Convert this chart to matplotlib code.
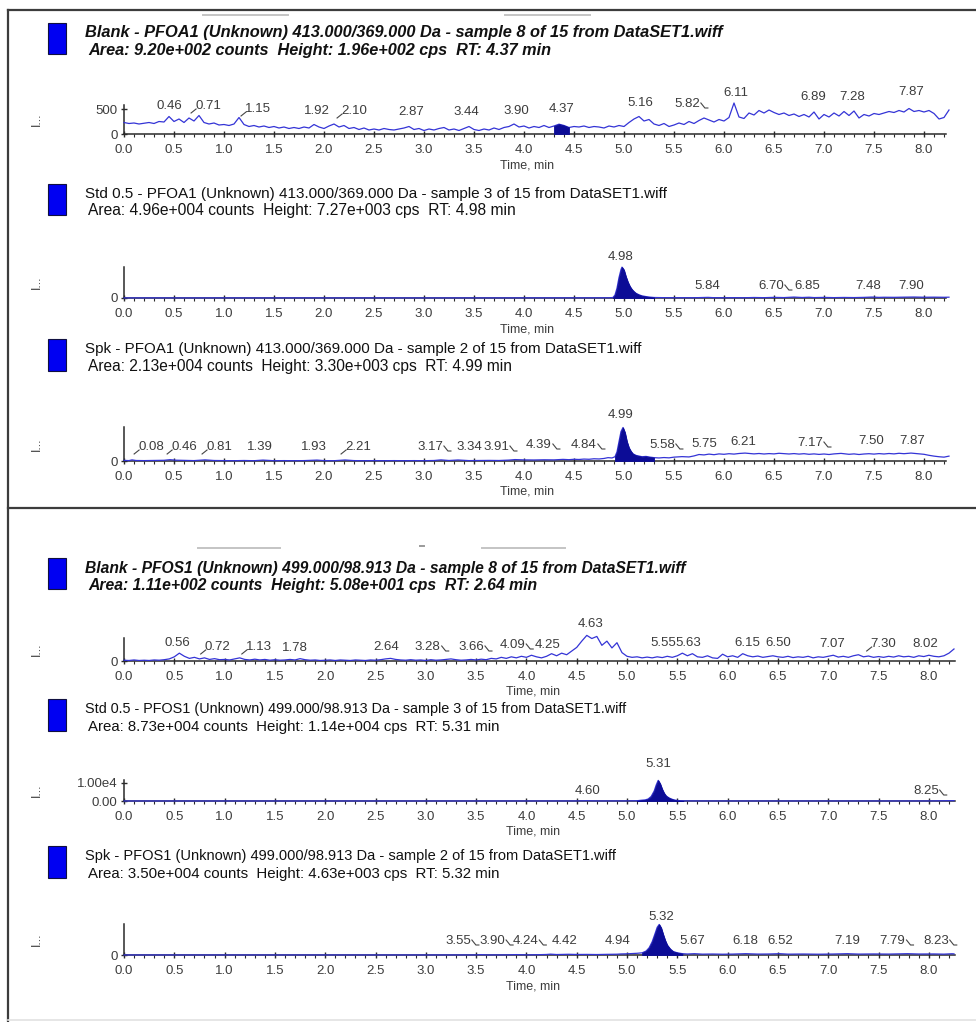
import numpy as np
import matplotlib
matplotlib.use("Agg")
import matplotlib.pyplot as plt
from matplotlib.lines import Line2D
from matplotlib.patches import Rectangle
from matplotlib.transforms import IdentityTransform
from matplotlib.ticker import MultipleLocator, FormatStrFormatter

plt.rcParams['font.family'] = ['Liberation Sans', 'DejaVu Sans']

W, H = 976, 1022
DT = 0.05  # sampling step of the two blank traces, min

# ---------------- data ----------------
# Blank PFOA1, cps every 0.05 min (rows = 0.5 min)
blank_pfoa = [
    230, 210, 220, 200, 215, 230, 210, 250, 240, 350,
    250, 300, 230, 320, 260, 370, 230, 200, 220, 180,
    190, 170, 200, 330, 190, 150, 170, 140, 160, 130,
    150, 120, 140, 110, 130, 110, 140, 120, 190, 140,
    110, 160, 200, 140, 170, 110, 130, 90, 120, 80,
    100, 80, 110, 90, 80, 100, 120, 150, 90, 110,
    70, 100, 80, 110, 130, 80, 100, 70, 110, 150,
    90, 70, 100, 80, 120, 90, 130, 150, 200, 140,
    160, 120, 150, 130, 170, 130, 160, 196, 170, 130,
    150, 140, 160, 130, 150, 140, 120, 160, 140, 170,
    150, 230, 300, 350, 260, 290, 200, 170, 210, 150,
    180, 220, 190, 250, 210, 270, 320, 280, 240, 290,
    260, 330, 620, 340, 310, 420, 380, 470, 420, 480,
    430, 390, 420, 370, 400, 350, 390, 340, 440, 300,
    390, 340, 420, 360, 450, 370, 460, 320, 390, 360,
    410, 390, 420, 450, 430, 470, 440, 510, 450, 470,
    440, 470, 410, 300, 330, 480,
]

# Std 0.5 PFOA1 (time, cps)
std_pfoa = [
    (0.0, 20), (0.3, 30), (0.6, 20), (1.0, 30), (1.4, 20), (1.8, 30), (2.2, 20),
    (2.6, 30), (3.0, 20), (3.4, 30), (3.8, 30), (4.2, 40), (4.6, 40), (4.85, 50),
    (4.89, 120), (4.91, 700), (4.93, 2300), (4.95, 4800), (4.97, 6700), (4.98, 7270),
    (5.00, 6600), (5.02, 5000), (5.04, 3700), (5.06, 2700), (5.08, 2000), (5.10, 1500),
    (5.12, 1100), (5.15, 750), (5.18, 500), (5.22, 330), (5.26, 200), (5.30, 120),
    (5.4, 80), (5.5, 60), (5.6, 70), (5.7, 60), (5.84, 150), (5.9, 70), (6.0, 60),
    (6.1, 80), (6.2, 60), (6.3, 120), (6.4, 80), (6.5, 150), (6.6, 100), (6.70, 220),
    (6.78, 120), (6.85, 180), (6.9, 100), (7.0, 140), (7.1, 90), (7.2, 130), (7.3, 100),
    (7.4, 150), (7.48, 220), (7.55, 150), (7.6, 180), (7.7, 160), (7.8, 200), (7.9, 230),
    (8.0, 180), (8.1, 200), (8.2, 170), (8.25, 190),
]

# Spk PFOA1 (time, cps)
spk_pfoa = [
    (0.00, 60), (0.05, 40), (0.08, 110), (0.12, 50), (0.2, 40), (0.3, 60), (0.4, 70),
    (0.46, 130), (0.52, 80), (0.6, 60), (0.7, 40), (0.81, 110), (0.9, 50), (1.0, 40),
    (1.1, 30), (1.2, 50), (1.3, 30), (1.39, 90), (1.5, 30), (1.6, 40), (1.7, 30),
    (1.8, 40), (1.93, 90), (2.0, 40), (2.1, 30), (2.21, 100), (2.3, 40), (2.4, 30),
    (2.5, 40), (2.6, 30), (2.7, 40), (2.8, 30), (2.9, 40), (3.0, 30), (3.1, 50),
    (3.17, 110), (3.25, 50), (3.34, 100), (3.45, 40), (3.55, 50), (3.65, 60), (3.75, 50),
    (3.85, 90), (3.91, 140), (4.0, 110), (4.1, 100), (4.2, 120), (4.3, 110), (4.39, 160),
    (4.45, 130), (4.5, 170), (4.55, 150), (4.6, 190), (4.65, 170), (4.7, 220), (4.75, 200),
    (4.8, 250), (4.84, 330), (4.88, 300), (4.91, 420), (4.93, 900), (4.95, 1900),
    (4.97, 2900), (4.99, 3300), (5.01, 2800), (5.03, 1900), (5.05, 1300), (5.07, 950),
    (5.09, 700), (5.12, 550), (5.15, 480), (5.18, 420), (5.22, 450), (5.26, 380),
    (5.3, 330), (5.35, 300), (5.4, 340), (5.45, 310), (5.5, 380), (5.58, 430), (5.65, 400),
    (5.7, 500), (5.75, 640), (5.8, 600), (5.85, 680), (5.9, 620), (5.95, 700), (6.0, 660),
    (6.05, 720), (6.1, 680), (6.15, 740), (6.21, 780), (6.3, 700), (6.35, 740), (6.4, 690),
    (6.45, 730), (6.5, 700), (6.55, 760), (6.6, 720), (6.65, 690), (6.7, 730), (6.75, 680),
    (6.8, 720), (6.85, 660), (6.9, 700), (6.95, 650), (7.0, 690), (7.05, 640), (7.1, 700),
    (7.17, 750), (7.25, 660), (7.3, 700), (7.35, 640), (7.4, 690), (7.45, 720), (7.5, 680),
    (7.55, 730), (7.6, 690), (7.65, 740), (7.7, 700), (7.75, 760), (7.8, 720), (7.87, 780),
    (7.95, 700), (8.0, 660), (8.05, 560), (8.1, 480), (8.15, 420), (8.2, 380), (8.25, 480),
]

# Blank PFOS1, cps every 0.05 min
blank_pfos = [
    15, 10, 20, 10, 15, 10, 20, 15, 25, 40,
    80, 150, 90, 50, 70, 40, 60, 30, 45, 25,
    30, 20, 40, 60, 30, 20, 35, 20, 30, 15,
    25, 15, 20, 30, 20, 45, 25, 15, 20, 10,
    15, 20, 10, 20, 15, 10, 20, 15, 10, 20,
    15, 25, 40, 50, 30, 20, 15, 25, 15, 20,
    10, 25, 15, 20, 30, 40, 25, 15, 20, 30,
    20, 35, 25, 50, 40, 70, 50, 80, 60, 90,
    70, 110, 80, 60, 90, 140, 100, 150, 120, 190,
    260, 380, 490, 430, 470, 300, 380, 250, 350, 160,
    90, 70, 80, 60, 75, 60, 80, 65, 90, 70,
    100, 150, 100, 140, 80, 70, 100, 60, 50, 130,
    80, 100, 70, 140, 100, 80, 95, 70, 85, 100,
    80, 70, 90, 65, 80, 70, 90, 60, 80, 70,
    90, 110, 75, 90, 70, 100, 120, 80, 95, 70,
    85, 70, 90, 75, 100, 80, 90, 70, 100, 85,
    110, 90, 80, 100, 150, 230,
]

# Std 0.5 PFOS1 (time, cps)
std_pfos = [
    (0.0, 20), (1.0, 20), (2.0, 20), (3.0, 20), (4.0, 30), (4.5, 40), (4.6, 150),
    (4.7, 40), (5.0, 60), (5.1, 150), (5.14, 400), (5.18, 600), (5.21, 1100),
    (5.24, 2500), (5.27, 5500), (5.29, 8800), (5.31, 11400), (5.33, 9500), (5.35, 6500),
    (5.37, 4200), (5.39, 2700), (5.42, 1600), (5.45, 900), (5.48, 450), (5.52, 200),
    (5.56, 80), (5.7, 40), (6.0, 30), (7.0, 30), (8.0, 40), (8.25, 200),
]

# Spk PFOS1 (time, cps)
spk_pfos = [
    (0.0, 10), (0.5, 10), (1.0, 10), (1.5, 10), (2.0, 10), (2.5, 10), (3.0, 10),
    (3.5, 15), (3.55, 60), (3.6, 15), (3.8, 20), (3.9, 60), (4.0, 20), (4.1, 40),
    (4.2, 80), (4.24, 130), (4.3, 70), (4.42, 110), (4.5, 80), (4.6, 90), (4.7, 70),
    (4.8, 100), (4.9, 120), (4.94, 160), (5.0, 180), (5.05, 220), (5.1, 260), (5.15, 330),
    (5.19, 600), (5.22, 1100), (5.25, 2000), (5.28, 3300), (5.30, 4200), (5.32, 4630),
    (5.34, 4100), (5.36, 3100), (5.38, 2200), (5.40, 1500), (5.43, 900), (5.46, 520),
    (5.5, 330), (5.55, 200), (5.6, 150), (5.67, 200), (5.75, 130), (5.85, 150),
    (5.95, 120), (6.05, 140), (6.18, 200), (6.3, 140), (6.4, 150), (6.52, 200),
    (6.6, 130), (6.75, 150), (6.9, 120), (7.05, 150), (7.19, 200), (7.3, 140),
    (7.45, 160), (7.6, 140), (7.79, 200), (7.9, 150), (8.05, 160), (8.15, 130),
    (8.23, 190), (8.25, 170),
]

# labelled retention times per panel
peaks = [
    [0.46, 0.71, 1.15, 1.92, 2.10, 2.87, 3.44, 3.90, 4.37, 5.16, 5.82, 6.11, 6.89, 7.28, 7.87],
    [4.98, 5.84, 6.70, 6.85, 7.48, 7.90],
    [0.08, 0.46, 0.81, 1.39, 1.93, 2.21, 3.17, 3.34, 3.91, 4.39, 4.84, 4.99, 5.58, 5.75,
     6.21, 7.17, 7.50, 7.87],
    [0.56, 0.72, 1.13, 1.78, 2.64, 3.28, 3.66, 4.09, 4.25, 4.63, 5.55, 5.63, 6.15, 6.50,
     7.07, 7.30, 8.02],
    [4.60, 5.31, 8.25],
    [3.55, 3.90, 4.24, 4.42, 4.94, 5.32, 5.67, 6.18, 6.52, 7.19, 7.79, 8.23],
]

titles = [
    ("Blank - PFOA1 (Unknown) 413.000/369.000 Da - sample 8 of 15 from DataSET1.wiff",
     "Area: 9.20e+002 counts  Height: 1.96e+002 cps  RT: 4.37 min"),
    ("Std 0.5 - PFOA1 (Unknown) 413.000/369.000 Da - sample 3 of 15 from DataSET1.wiff",
     "Area: 4.96e+004 counts  Height: 7.27e+003 cps  RT: 4.98 min"),
    ("Spk - PFOA1 (Unknown) 413.000/369.000 Da - sample 2 of 15 from DataSET1.wiff",
     "Area: 2.13e+004 counts  Height: 3.30e+003 cps  RT: 4.99 min"),
    ("Blank - PFOS1 (Unknown) 499.000/98.913 Da - sample 8 of 15 from DataSET1.wiff",
     "Area: 1.11e+002 counts  Height: 5.08e+001 cps  RT: 2.64 min"),
    ("Std 0.5 - PFOS1 (Unknown) 499.000/98.913 Da - sample 3 of 15 from DataSET1.wiff",
     "Area: 8.73e+004 counts  Height: 1.14e+004 cps  RT: 5.31 min"),
    ("Spk - PFOS1 (Unknown) 499.000/98.913 Da - sample 2 of 15 from DataSET1.wiff",
     "Area: 3.50e+004 counts  Height: 4.63e+003 cps  RT: 5.32 min"),
]

# ---------------- layout (pixels) ----------------
panels = [
    dict(ay=134, top=105, right=946, xmax=8.22, ymax=580, ty=(33, 50), bold=True, tw=(637, 464),
         yt=[0, 500], ytl=["0", "500"], fill=(4.28, 4.46), xl=527),
    dict(ay=298, top=267, right=946, xmax=8.22, ymax=7300, ty=(194, 211), bold=False, tw=(582, 429),
         yt=[0], ytl=["0"], fill=(4.89, 5.30), xl=527),
    dict(ay=461, top=427, right=946, xmax=8.22, ymax=3350, ty=(349, 367), bold=False, tw=(555, 425),
         yt=[0], ytl=["0"], fill=(4.91, 5.30), xl=527),
    dict(ay=661, top=638, right=955, xmax=8.26, ymax=440, ty=(568, 585), bold=True, tw=(600, 449),
         yt=[0], ytl=["0"], fill=None, xl=533),
    dict(ay=801, top=780, right=955, xmax=8.26, ymax=11600, ty=(709, 727), bold=False, tw=(540, 412),
         yt=[0, 10000], ytl=["0.00", "1.00e4"], fill=(5.10, 5.56), xl=533),
    dict(ay=955, top=924, right=955, xmax=8.26, ymax=4700, ty=(856, 874), bold=False, tw=(530, 412),
         yt=[0], ytl=["0"], fill=(5.15, 5.55), xl=533),
]

# label centre (min), height above axis (px), leader side (-1 left, 1 right)
lab_x = [
    [0.45, 0.84, 1.34, 1.93, 2.30, 2.87, 3.42, 3.92, 4.38, 5.16, 5.63, 6.12, 6.89, 7.28, 7.87],
    [4.97, 5.83, 6.47, 6.83, 7.44, 7.87],
    [0.27, 0.60, 0.95, 1.36, 1.90, 2.34, 3.06, 3.45, 3.72, 4.15, 4.60, 4.97, 5.38, 5.80,
     6.19, 6.86, 7.47, 7.88],
    [0.53, 0.93, 1.34, 1.70, 2.61, 3.02, 3.45, 3.86, 4.21, 4.64, 5.36, 5.61, 6.20, 6.50,
     7.04, 7.55, 7.96],
    [4.61, 5.31, 7.97],
    [3.32, 3.66, 3.99, 4.38, 4.91, 5.34, 5.65, 6.18, 6.52, 7.19, 7.64, 8.07],
]
lab_h = [
    [28, 28, 25, 23, 23, 22, 22, 23, 25, 31, 30, 41, 37, 37, 42],
    [41, 12, 12, 12, 12, 12],
    [14, 14, 14, 14, 14, 14, 14, 14, 14, 16, 16, 46, 16, 17, 19, 18, 20, 20],
    [18, 14, 14, 13, 14, 14, 14, 16, 16, 37, 18, 18, 18, 18, 17, 17, 17],
    [10, 37, 10],
    [14, 14, 14, 14, 14, 38, 14, 14, 14, 14, 14, 14],
]
lab_lead = [
    [0, -1, -1, 0, -1, 0, 0, 0, 0, 0, 1, 0, 0, 0, 0],
    [0, 0, 1, 0, 0, 0],
    [-1, -1, -1, 0, 0, -1, 1, 0, 1, 1, 1, 0, 1, 0, 0, 1, 0, 0],
    [0, -1, -1, 0, 0, 1, 1, 1, 0, 0, 0, 0, 0, 0, 0, -1, 0],
    [0, 0, 1],
    [1, 1, 1, 0, 0, 0, 0, 0, 0, 0, 1, 1],
]

TRACE = "#3434d6"
FILL = "#0c0c96"
INK = "#2a2a2a"
GREY_TXT = "#3c3c3c"
FS = 9.5

traces = [blank_pfoa, std_pfoa, spk_pfoa, blank_pfos, std_pfos, spk_pfos]


def trace_xy(k):
    d = traces[k]
    if k in (0, 3):
        return np.arange(len(d)) * DT, np.array(d, float)
    arr = np.array(d, float)
    return arr[:, 0], arr[:, 1]


fig = plt.figure(figsize=(W / 100, H / 100), dpi=100)
fig.patch.set_facecolor("white")
renderer = fig.canvas.get_renderer()


def fline(xs, ys, **kw):
    fig.add_artist(Line2D([x / W for x in xs], [1 - y / H for y in ys],
                          transform=fig.transFigure, **kw))


# frames and the grey scroll markers of the screenshot
fline([8, 976], [10, 10], color="#3c3c3c", lw=1.6)
fline([8, 8], [10, 1022], color="#3c3c3c", lw=1.6)
fline([8, 976], [508, 508], color="#3c3c3c", lw=1.6)
fline([8, 976], [1020, 1020], color="#e2e2e2", lw=1.2)
for xa, xb, yy in [(203, 288, 15), (505, 590, 15), (198, 280, 548), (482, 565, 548)]:
    fline([xa, xb], [yy, yy], color="#c4c4c4", lw=1.4)
fline([420, 424], [546, 546], color="#9a9a9a", lw=1.4)

for k, p in enumerate(panels):
    # legend square + two-line header
    y1, y2 = p["ty"]
    fig.add_artist(Rectangle((48 / W, 1 - (y2 + 4) / H), 18 / W, (y2 - y1 + 14) / H,
                             transform=fig.transFigure, facecolor="#0000f2",
                             edgecolor="#101040", lw=0.8))
    for s, yy, xx, tw in [(titles[k][0], y1, 85, p["tw"][0]), (titles[k][1], y2, 88, p["tw"][1])]:
        t = fig.text(xx / W, 1 - yy / H, s, fontsize=10, color="#111111", va="center", ha="left",
                     weight="bold" if p["bold"] else "normal",
                     style="italic" if p["bold"] else "normal")
        w = t.get_window_extent(renderer).width
        t.set_fontsize(10 * tw / w)

    ax = fig.add_axes([124 / W, 1 - p["ay"] / H, (p["right"] - 124) / W, (p["ay"] - p["top"]) / H])
    ax.patch.set_alpha(0)
    ax.set_xlim(0, p["xmax"])
    ax.set_ylim(0, p["ymax"])
    for side in ["top", "right"]:
        ax.spines[side].set_visible(False)
    for side in ["left", "bottom"]:
        ax.spines[side].set_color(INK)
        ax.spines[side].set_linewidth(1.1)
    ax.xaxis.set_minor_locator(MultipleLocator(0.1))
    ax.set_xticks(np.arange(0, 8.01, 0.5))
    ax.xaxis.set_major_formatter(FormatStrFormatter("%.1f"))
    ax.set_yticks(p["yt"], p["ytl"])
    ax.tick_params(axis="x", which="major", direction="inout", length=5, width=1,
                   color=INK, labelsize=FS, labelcolor=GREY_TXT, pad=4.5)
    ax.tick_params(axis="x", which="minor", direction="out", length=2.2, width=0.8, color=INK)
    ax.tick_params(axis="y", which="major", direction="inout", length=5, width=1,
                   color=INK, labelsize=FS, labelcolor=GREY_TXT, pad=2)

    # "Time, min" under each axis
    xl_x, xl_y = p["xl"], p["ay"] + 31
    fig.text(xl_x / W, 1 - xl_y / H, "Time, min", fontsize=9, color=GREY_TXT,
             ha="center", va="center")

    t, i = trace_xy(k)
    ax.plot(t, i, color=TRACE, lw=0.9, clip_on=False, zorder=3)
    if p["fill"] is not None:
        m = (t >= p["fill"][0]) & (t <= p["fill"][1])
        ax.fill_between(t[m], i[m], 0, color=FILL, lw=0.6, zorder=4)

    # truncated axis title at the far left
    fig.text(37 / W, 1 - (p["ay"] + p["top"]) / 2 / H, "I...", rotation=90, fontsize=9,
             color=GREY_TXT, ha="center", va="center")

    # peak labels (placed in pixels above the axis line)
    y0 = ax.transData.transform((0, 0))[1]
    for rt, lx, lh, ld in zip(peaks[k], lab_x[k], lab_h[k], lab_lead[k]):
        xd = ax.transData.transform((lx, 0))[0]
        txt = fig.text(xd, y0 + lh, f"{rt:.2f}", transform=IdentityTransform(), fontsize=FS,
                       color=GREY_TXT, ha="center", va="center")
        bb = txt.get_window_extent(renderer)
        if ld < 0:
            xs, ys = [bb.x0 + 1, bb.x0 - 4], [y0 + lh - 3, y0 + lh - 7]
        elif ld > 0:
            xs, ys = [bb.x1 + 1, bb.x1 + 5, bb.x1 + 8], [y0 + lh + 1, y0 + lh - 4, y0 + lh - 4]
        else:
            continue
        fig.add_artist(Line2D(xs, ys, transform=IdentityTransform(), color="#444444", lw=0.8))

fig.savefig("out.png", dpi=100)
